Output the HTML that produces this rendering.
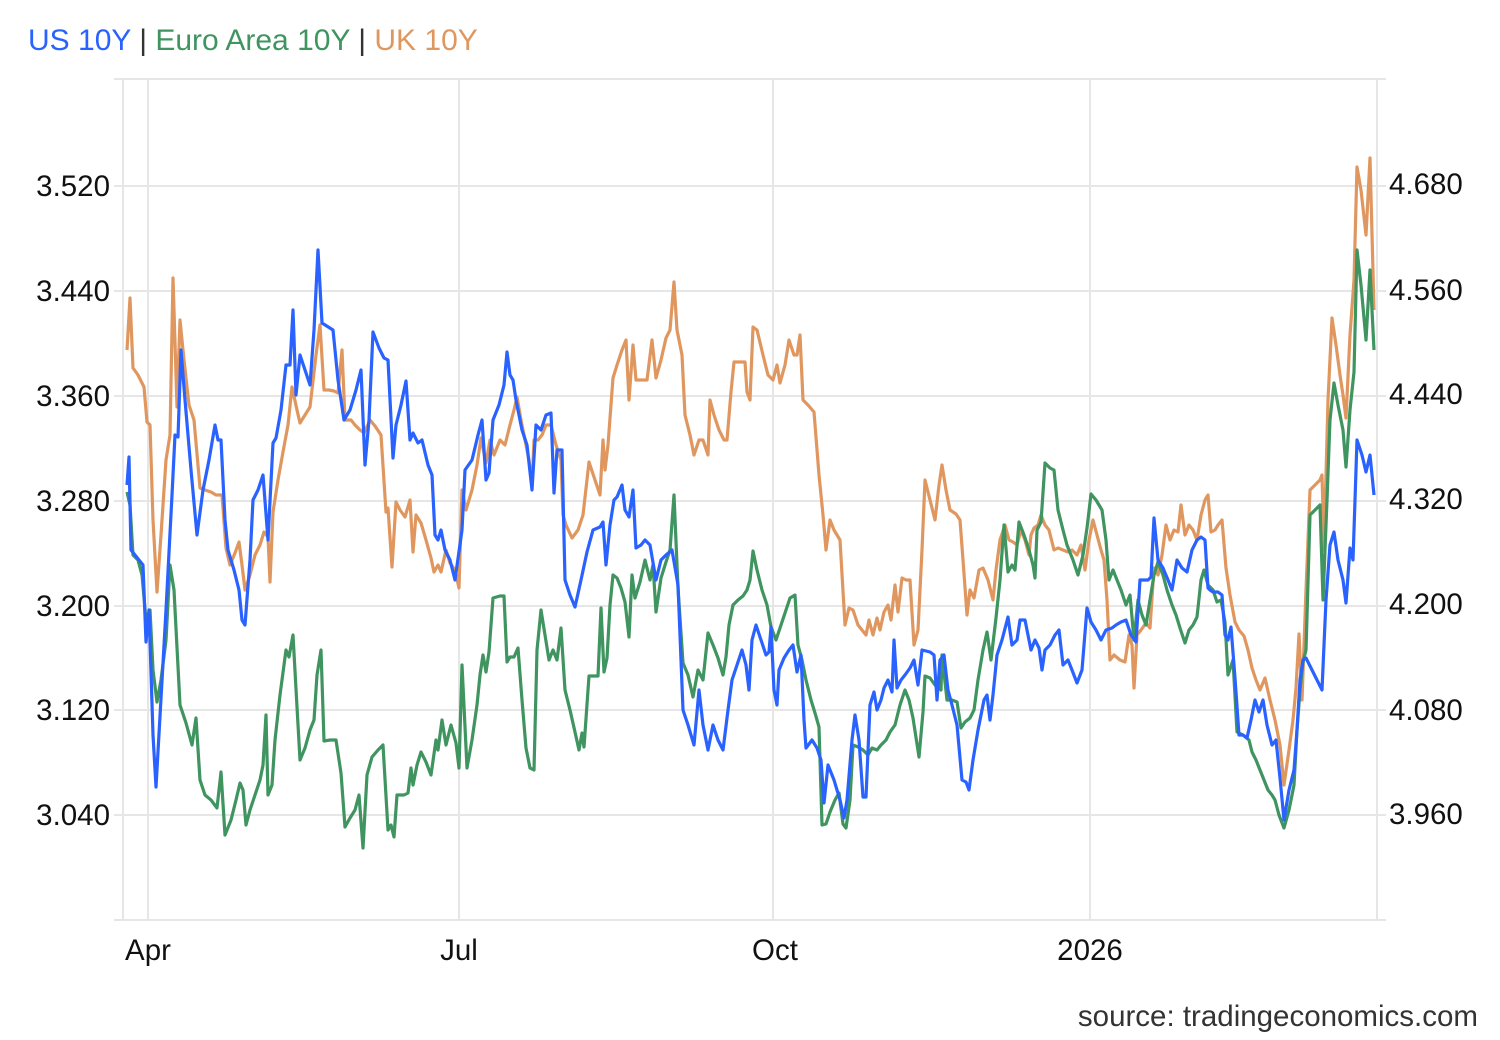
<!DOCTYPE html>
<html><head><meta charset="utf-8"><style>
html,body{margin:0;padding:0;background:#fff;}
svg{display:block;font-family:"Liberation Sans",Arial,sans-serif;}
</style></head><body>
<svg width="1500" height="1040" viewBox="0 0 1500 1040" xmlns="http://www.w3.org/2000/svg">
<rect width="1500" height="1040" fill="#fff"/>
<text x="28" y="50" font-size="30"><tspan fill="#2962ff">US 10Y</tspan><tspan fill="#333"> | </tspan><tspan fill="#3f9460">Euro Area 10Y</tspan><tspan fill="#333"> | </tspan><tspan fill="#e0975f">UK 10Y</tspan></text>
<g stroke="#e6e6e6" stroke-width="2" fill="none">
<line x1="114" y1="79" x2="1386" y2="79"/>
<line x1="114" y1="186" x2="1386" y2="186"/>
<line x1="114" y1="291" x2="1386" y2="291"/>
<line x1="114" y1="396" x2="1386" y2="396"/>
<line x1="114" y1="501" x2="1386" y2="501"/>
<line x1="114" y1="606" x2="1386" y2="606"/>
<line x1="114" y1="710" x2="1386" y2="710"/>
<line x1="114" y1="815" x2="1386" y2="815"/>
<line x1="114" y1="920" x2="1386" y2="920"/>
<line x1="123" y1="79" x2="123" y2="920"/>
<line x1="1377" y1="79" x2="1377" y2="920"/>
<line x1="148" y1="79" x2="148" y2="920"/>
<line x1="459" y1="79" x2="459" y2="920"/>
<line x1="773" y1="79" x2="773" y2="920"/>
<line x1="1090" y1="79" x2="1090" y2="920"/>
</g>
<g font-size="29.5" fill="#111" text-anchor="end">
<text x="110" y="196">3.520</text><text x="110" y="301">3.440</text><text x="110" y="406">3.360</text><text x="110" y="511">3.280</text><text x="110" y="616">3.200</text><text x="110" y="720">3.120</text><text x="110" y="825">3.040</text>
</g>
<g font-size="29.5" fill="#111">
<text x="1389" y="194">4.680</text><text x="1389" y="300">4.560</text><text x="1389" y="404">4.440</text><text x="1389" y="509">4.320</text><text x="1389" y="614">4.200</text><text x="1389" y="720">4.080</text><text x="1389" y="824">3.960</text>
</g>
<g font-size="29.5" fill="#111" text-anchor="middle">
<text x="148" y="960">Apr</text><text x="459" y="960">Jul</text><text x="775" y="960">Oct</text><text x="1090" y="960">2026</text>
</g>
<text x="1478" y="1026" font-size="29.5" fill="#333" text-anchor="end">source: tradingeconomics.com</text>
<g fill="none" stroke-width="3.2" stroke-linejoin="round">
<polyline stroke="#e0975f" points="127,350 130,298 133,368 138,375 144,387 147,422 150,425 153,520 157,592 161,535 166,460 170,435 173,278 177,407 180,320 184,360 189,405 194,420 200,488 205,490 211,492 216,495 222,495 226,548 230,565 235,553 239,542 242,565 245,590 250,575 255,555 260,545 264,532 268,537 270,582 273,512 278,480 283,452 288,425 292,387 297,410 300,423 305,415 310,407 316,355 320,325 324,390 329,390 334,391 338,393 342,350 345,420 351,420 355,425 360,430 364,433 370,420 375,426 381,435 386,512 388,508 392,567 396,502 400,510 405,517 410,500 413,552 416,515 421,523 426,540 431,558 434,572 438,565 441,572 446,550 450,563 455,570 459,588 462,490 466,510 472,490 477,465 481,438 486,463 490,440 494,455 500,440 505,445 510,425 514,410 517,397 521,420 525,440 529,460 532,485 534,440 538,440 542,435 546,425 551,425 556,445 561,460 563,515 566,525 572,538 578,530 583,515 589,462 595,480 600,495 603,440 605,470 608,445 613,378 617,365 622,350 626,340 629,400 633,345 636,380 641,380 647,380 652,340 656,378 661,360 666,338 670,330 674,282 677,330 682,355 685,415 690,435 694,455 699,440 703,440 708,455 710,400 714,415 719,430 724,440 727,440 731,392 734,362 740,362 745,362 747,392 750,400 753,327 757,330 763,355 768,375 773,380 777,365 780,383 785,365 789,340 794,355 797,355 800,335 803,400 808,405 814,412 819,475 823,515 826,550 830,520 834,530 840,540 845,625 849,608 853,610 858,625 862,630 866,635 869,620 873,635 877,618 880,630 884,612 888,605 891,620 895,585 898,612 902,578 906,580 910,580 914,645 918,630 922,550 925,480 930,500 935,520 939,485 942,465 946,490 950,510 956,514 960,520 963,560 967,615 970,590 974,598 979,570 983,568 988,580 993,600 996,570 1000,540 1005,525 1009,540 1013,542 1017,545 1021,530 1025,540 1029,555 1031,535 1034,528 1038,525 1041,515 1045,525 1049,530 1054,550 1058,548 1063,550 1068,552 1072,550 1077,555 1081,545 1085,570 1089,540 1093,520 1097,535 1101,550 1104,560 1107,600 1110,660 1114,655 1120,660 1125,662 1129,635 1132,645 1134,688 1137,635 1141,630 1146,623 1150,628 1154,568 1158,575 1162,555 1166,525 1170,540 1174,530 1178,532 1181,505 1185,535 1189,525 1193,530 1197,540 1201,515 1205,500 1208,495 1211,532 1215,530 1218,525 1222,520 1226,568 1230,595 1235,622 1239,630 1244,636 1248,650 1252,668 1256,680 1260,690 1265,678 1270,700 1275,720 1280,745 1284,785 1289,750 1293,720 1296,688 1299,634 1302,700 1306,590 1310,490 1315,485 1320,480 1322,475 1324,550 1328,400 1332,318 1336,345 1340,375 1343,395 1346,418 1350,335 1354,280 1357,167 1361,190 1366,235 1370,158 1374,310"/>
<polyline stroke="#3f9460" points="127,492 130,505 133,555 138,560 142,575 146,620 150,610 153,670 157,702 161,680 166,640 170,565 174,590 180,705 186,723 192,745 196,718 200,780 205,795 211,800 217,808 221,772 225,835 231,820 236,800 240,783 243,790 246,825 250,810 255,795 260,780 263,765 266,715 268,795 272,785 275,740 280,695 286,650 289,657 293,635 297,707 300,760 305,748 310,730 314,720 317,675 321,650 324,741 330,740 336,740 341,773 345,827 350,818 355,810 359,795 363,848 367,775 372,757 378,750 383,745 388,830 391,825 394,837 397,795 404,795 408,793 411,768 413,785 417,765 421,752 426,762 431,775 436,740 438,750 442,720 446,745 451,725 456,743 459,768 462,665 467,768 472,740 477,705 480,675 483,655 486,672 489,652 493,598 500,596 504,596 507,662 510,657 514,657 518,648 522,700 526,748 530,768 534,770 537,650 541,610 545,635 549,660 553,650 557,660 561,628 565,690 570,710 575,732 579,750 582,733 584,747 589,676 595,676 598,676 601,608 604,672 607,658 610,605 613,575 617,578 621,588 625,602 629,637 632,575 635,598 640,582 645,560 650,580 653,565 656,612 661,578 666,562 670,550 674,495 678,588 683,663 688,675 693,697 698,670 703,680 708,633 713,645 718,658 723,675 726,657 729,625 733,605 738,600 743,596 747,590 750,580 753,551 757,570 762,590 767,605 771,627 776,640 781,625 786,610 790,598 795,595 798,645 802,660 806,680 811,700 815,713 819,727 822,825 826,824 830,812 835,800 839,793 843,824 846,828 850,800 853,745 858,747 863,750 868,755 872,748 877,750 881,745 886,740 890,732 895,725 900,705 905,690 909,700 913,718 919,757 923,712 925,676 930,678 935,685 941,690 942,655 947,700 952,700 957,702 961,728 965,722 970,718 974,710 978,680 983,650 987,632 991,660 996,618 1000,580 1004,525 1008,572 1012,565 1015,570 1019,522 1024,535 1029,550 1033,565 1035,578 1037,530 1041,522 1045,463 1050,468 1054,470 1058,510 1063,530 1067,545 1073,560 1078,575 1083,555 1087,528 1091,494 1096,500 1102,510 1106,540 1109,580 1113,570 1117,580 1121,590 1126,605 1130,595 1134,640 1138,600 1142,615 1146,625 1150,600 1154,575 1158,562 1163,575 1167,590 1172,605 1176,615 1180,628 1185,643 1189,630 1193,625 1197,617 1201,580 1204,570 1208,585 1213,590 1217,602 1221,600 1225,622 1228,675 1233,660 1237,732 1243,735 1249,740 1252,752 1256,760 1260,770 1264,780 1268,790 1272,795 1275,800 1279,815 1284,828 1289,810 1294,785 1297,730 1300,690 1303,662 1306,650 1310,515 1315,510 1320,505 1323,600 1327,500 1330,420 1334,383 1338,405 1343,430 1346,467 1350,410 1354,372 1357,250 1361,285 1366,340 1370,270 1374,350"/>
<polyline stroke="#2962ff" points="127,485 129,457 131,550 143,565 146,642 149,610 153,735 156,787 166,610 172,495 175,435 178,437 181,350 185,400 191,470 197,535 203,490 209,460 215,425 218,440 221,440 225,520 228,550 234,570 239,590 242,620 245,625 250,560 253,500 258,490 263,475 268,540 273,443 276,438 281,410 286,365 290,365 293,310 296,395 300,355 305,370 310,385 314,330 318,250 322,323 333,330 338,380 344,420 350,410 356,390 361,370 365,465 369,420 373,332 379,348 384,358 388,360 393,458 396,425 401,405 406,381 410,440 413,433 418,443 422,440 428,465 432,475 435,535 438,540 441,530 445,550 450,560 455,580 462,530 465,470 472,460 478,435 482,420 486,480 489,473 493,420 499,405 504,385 507,352 510,375 513,380 516,400 522,430 527,445 532,490 536,425 541,430 546,415 551,413 554,493 557,450 562,450 565,580 570,595 575,607 581,580 587,552 593,530 600,527 603,522 606,565 610,525 614,500 617,497 622,485 625,510 629,517 633,490 636,548 641,545 645,540 650,545 656,580 661,560 666,555 672,550 678,585 683,710 688,725 694,745 699,690 703,725 708,750 713,725 718,740 723,750 728,710 732,680 737,665 742,650 746,665 749,690 752,640 756,625 761,640 766,655 769,652 771,627 774,690 777,705 779,670 784,658 789,650 793,645 797,672 801,655 804,720 806,748 812,740 817,748 821,760 824,803 828,765 834,780 840,800 844,818 847,800 852,740 855,715 859,740 863,797 866,797 870,705 874,692 877,710 881,700 884,688 888,680 892,692 894,640 897,688 901,680 905,675 910,668 914,660 918,685 922,650 930,652 934,655 937,700 940,660 944,655 948,690 952,705 957,725 962,780 966,782 969,790 973,760 978,730 984,700 987,695 990,720 993,695 997,655 1002,640 1008,617 1012,645 1017,640 1020,620 1025,620 1031,650 1035,640 1039,648 1042,670 1045,650 1050,645 1055,635 1059,630 1063,665 1068,660 1072,670 1077,683 1082,670 1087,608 1091,622 1096,630 1101,640 1106,630 1112,628 1116,625 1121,622 1126,620 1131,635 1136,642 1140,580 1143,580 1148,580 1151,577 1154,518 1158,560 1163,568 1168,580 1172,590 1177,560 1182,568 1187,572 1192,550 1197,540 1201,537 1205,540 1208,588 1210,590 1213,592 1218,592 1222,595 1225,635 1228,640 1231,627 1235,678 1239,735 1243,735 1247,738 1251,720 1255,700 1259,712 1263,700 1267,725 1272,745 1276,740 1280,778 1284,820 1289,790 1294,770 1297,730 1300,680 1303,660 1306,658 1312,670 1317,680 1322,690 1326,600 1330,545 1334,532 1338,560 1343,580 1346,603 1350,548 1353,560 1357,440 1362,455 1366,472 1370,455 1374,495"/>
</g>
</svg>
</body></html>
